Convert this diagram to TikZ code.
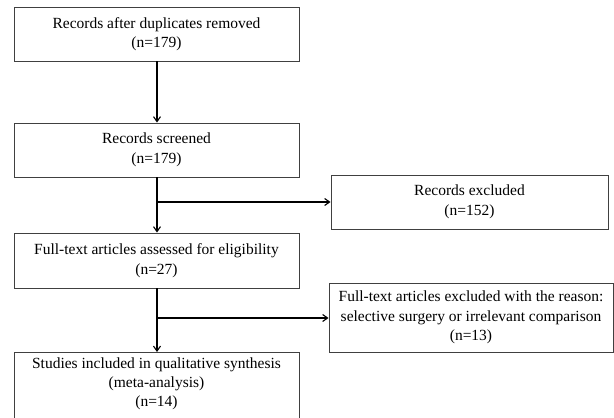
\documentclass[tikz,border=0pt]{standalone}
\usepackage{fontspec}
\setmainfont{Liberation Serif}
\usetikzlibrary{arrows.meta}
\begin{document}
\begin{tikzpicture}[x=1pt,y=-1pt,
  boxa/.style={draw=black!75, line width=0.9pt, fill=white, align=center, inner sep=0pt,
    font=\fontsize{15.5}{19.5}\selectfont},
  conn/.style={line width=1.1pt, -{Straight Barb[length=5pt,width=7pt]}}]
\useasboundingbox (0,0) rectangle (614,418);
\fill[white] (0,0) rectangle (614,418);
\begin{scope}
\clip (0,0) rectangle (614,418);
\node[boxa, minimum width=285pt, minimum height=54pt] (b1) at (156.5,34) {Records after duplicates removed\\(n=179)};
\node[boxa, minimum width=285pt, minimum height=54pt] (b2) at (156.5,150) {Records screened\\(n=179)};
\node[boxa, minimum width=285pt, minimum height=55pt] (b3) at (156.5,260.5) {Full-text articles assessed for eligibility\\(n=27)};
\node[boxa, minimum width=277pt, minimum height=54pt] (ex1) at (469.5,202) {Records excluded\\(n=152)};
\node[boxa, minimum width=284pt, minimum height=69pt] (ex2) at (471,317.5) {Full-text articles excluded with the reason:\\selective surgery or irrelevant comparison\\(n=13)};
\node[boxa, minimum width=285pt, minimum height=76pt, anchor=north] (b4) at (156.5,352) {};
\node[align=center, anchor=north, inner sep=0pt, font=\fontsize{15.5}{19}\selectfont] (b4t) at (156.5,358) {Studies included in qualitative synthesis\\(meta-analysis)\\(n=14)};
\end{scope}
\coordinate (j1) at (157,202);
\coordinate (j2) at (157,318);
\draw[conn] (b1.south -| j1) -- (b2.north -| j1);
\draw[conn] (b2.south -| j1) -- (b3.north -| j1);
\draw[conn] (j1) -- (ex1.west |- j1);
\draw[conn] (b3.south -| j2) -- (b4.north -| j2);
\draw[conn] (j2) -- (ex2.west |- j2);
\end{tikzpicture}
\end{document}
